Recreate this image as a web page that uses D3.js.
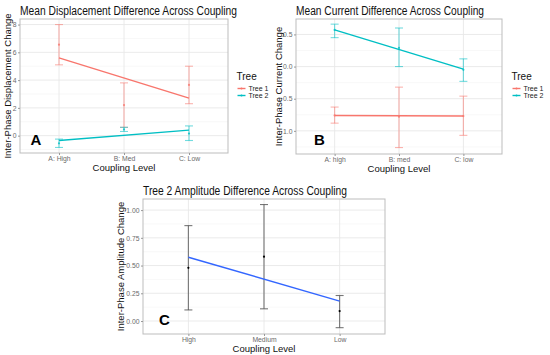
<!DOCTYPE html>
<html><head><meta charset="utf-8">
<script src="https://cdn.jsdelivr.net/npm/d3@7"></script>
<style>body{margin:0;background:#fff}svg{display:block}text{font-family:"Liberation Sans",Arial,sans-serif}</style>
</head><body>
<svg id="c" width="550" height="355"></svg>
<script>
// ---- Panel A: Mean Displacement ----
const catsA = ["A: High", "B: Med", "C: Low"];
const ticksA = [0, 2, 4, 6, 8];
const t1MeanA = [6.55, 2.2, 3.65];
const t1LowA = [5.1, 0.6, 2.3];
const t1HighA = [8.0, 3.8, 5.0];
const t1FitA = [5.6, 2.7];
const t2MeanA = [-0.55, 0.45, 0.15];
const t2LowA = [-0.85, 0.3, -0.35];
const t2HighA = [-0.25, 0.6, 0.7];
const t2FitA = [-0.35, 0.4];

// ---- Panel B: Mean Current ----
const catsB = ["A: high", "B: med", "C: low"];
const ticksB = [-1.0, -0.5, 0.0, 0.5];
const t1MeanB = [-0.76, -0.78, -0.77];
const t1LowB = [-0.88, -1.26, -1.07];
const t1HighB = [-0.63, -0.32, -0.46];
const t1FitB = [-0.76, -0.77];
const t2MeanB = [0.57, 0.29, -0.05];
const t2LowB = [0.45, 0.0, -0.23];
const t2HighB = [0.66, 0.6, 0.12];
const t2FitB = [0.57, -0.04];

// ---- Panel C: Tree 2 Amplitude ----
const catsC = ["High", "Medium", "Low"];
const ticksC = [0.00, 0.25, 0.50, 0.75, 1.00];
const meanC = [0.48, 0.58, 0.09];
const lowC = [0.10, 0.11, -0.06];
const highC = [0.86, 1.05, 0.23];
const fitC = [0.575, 0.18];

const legendNames = ["Tree 1", "Tree 2"];
const treeColors = ["#F8766D", "#00BFC4"];

const svg = d3.select("#c");

function panel(o) {
  const g = svg.append("g");
  const x = d3.scalePoint().domain(o.cats).range([o.x0, o.x1]).padding(0.6);
  const y = d3.scaleLinear().domain(o.ydom).range([o.y1, o.y0]);
  const minor = [];
  for (let i = 0; i < o.ticks.length - 1; i++) minor.push((o.ticks[i] + o.ticks[i + 1]) / 2);
  const lo = o.ticks[0] - (o.ticks[1] - o.ticks[0]) / 2;
  if (lo > o.ydom[0]) minor.push(lo);
  const hi = o.ticks[o.ticks.length - 1] + (o.ticks[1] - o.ticks[0]) / 2;
  if (hi < o.ydom[1]) minor.push(hi);
  g.selectAll(".mn").data(minor).join("line").attr("x1", o.x0).attr("x2", o.x1)
    .attr("y1", d => y(d)).attr("y2", d => y(d)).attr("stroke", "#f3f3f3").attr("stroke-width", 0.6);
  g.selectAll(".mj").data(o.ticks).join("line").attr("x1", o.x0).attr("x2", o.x1)
    .attr("y1", d => y(d)).attr("y2", d => y(d)).attr("stroke", "#e8e8e8").attr("stroke-width", 0.9);
  g.selectAll(".vx").data(o.cats).join("line").attr("x1", d => x(d)).attr("x2", d => x(d))
    .attr("y1", o.y0).attr("y2", o.y1).attr("stroke", "#e8e8e8").attr("stroke-width", 0.9);
  g.append("rect").attr("x", o.x0).attr("y", o.y0).attr("width", o.x1 - o.x0).attr("height", o.y1 - o.y0)
    .attr("fill", "none").attr("stroke", "#bdbdbd").attr("stroke-width", 1);
  const ya = d3.axisLeft(y).tickValues(o.ticks).tickSize(2).tickPadding(1.5).tickFormat(o.fmt);
  const ga = g.append("g").attr("transform", `translate(${o.x0},0)`).call(ya);
  ga.select(".domain").remove();
  ga.selectAll("line").attr("stroke", "#999");
  ga.selectAll("text").attr("fill", "#6a6a6a").style("font-size", "6.8px");
  const xa = d3.axisBottom(x).tickSize(2).tickPadding(1);
  const gx = g.append("g").attr("transform", `translate(0,${o.y1})`).call(xa);
  gx.select(".domain").remove();
  gx.selectAll("line").attr("stroke", "#999");
  gx.selectAll("text").attr("fill", "#6a6a6a").style("font-size", "6.8px");
  o.series.forEach(s => {
    const bars = o.cats.map((c, i) => ({ c, m: s.mean[i], lo: s.low[i], hi: s.high[i] }));
    const eg = g.append("g").attr("stroke", s.ebColor).attr("stroke-opacity", s.ebOpacity).attr("stroke-width", 1.1);
    eg.selectAll(".v").data(bars).join("line").attr("x1", d => x(d.c)).attr("x2", d => x(d.c))
      .attr("y1", d => y(d.lo)).attr("y2", d => y(d.hi));
    eg.selectAll(".t").data(bars).join("line").attr("x1", d => x(d.c) - 4).attr("x2", d => x(d.c) + 4)
      .attr("y1", d => y(d.hi)).attr("y2", d => y(d.hi));
    eg.selectAll(".b").data(bars).join("line").attr("x1", d => x(d.c) - 4).attr("x2", d => x(d.c) + 4)
      .attr("y1", d => y(d.lo)).attr("y2", d => y(d.lo));
    g.selectAll(null).data(bars).join("circle").attr("cx", d => x(d.c)).attr("cy", d => y(d.m))
      .attr("r", 1.1).attr("fill", s.ptColor).attr("fill-opacity", s.ptOpacity);
    const fit = [{ c: o.cats[0], v: s.fit[0] }, { c: o.cats[o.cats.length - 1], v: s.fit[1] }];
    g.append("path").datum(fit).attr("d", d3.line().x(d => x(d.c)).y(d => y(d.v)))
      .attr("stroke", s.lineColor).attr("stroke-width", 1.4).attr("fill", "none");
  });
  g.append("text").attr("x", o.x0).attr("y", o.y0 - 4).text(o.title)
    .style("font-size", "12px").attr("fill", "#111").attr("textLength", o.titleLen).attr("lengthAdjust", "spacingAndGlyphs");
  g.append("text").attr("x", (o.x0 + o.x1) / 2).attr("y", o.y1 + 18).attr("text-anchor", "middle")
    .text("Coupling Level").style("font-size", "9.5px").attr("fill", "#111");
  g.append("text").attr("transform", `translate(${o.ylabX},${(o.y0 + o.y1) / 2}) rotate(-90)`)
    .attr("text-anchor", "middle").attr("dy", "0.35em").text(o.ylab).style("font-size", "9.5px").attr("fill", "#111");
  g.append("text").attr("x", o.tagX).attr("y", o.tagY).text(o.tag)
    .style("font-size", "15px").style("font-weight", "bold").attr("fill", "#000");
  if (o.legend) {
    const lg = g.append("g").attr("transform", `translate(${o.legend[0]},${o.legend[1]})`);
    lg.append("text").attr("x", 0).attr("y", 0).attr("dy", "0.35em").text("Tree").style("font-size", "10px").attr("fill", "#111");
    legendNames.forEach((n, i) => {
      const yy = 12.5 + i * 7;
      lg.append("line").attr("x1", 1).attr("x2", 9).attr("y1", yy).attr("y2", yy)
        .attr("stroke", treeColors[i]).attr("stroke-width", 1.4);
      lg.append("circle").attr("cx", 5).attr("cy", yy).attr("r", 1).attr("fill", treeColors[i]);
      lg.append("text").attr("x", 12).attr("y", yy).attr("dy", "0.35em").text(n).style("font-size", "7px").attr("fill", "#222");
    });
  }
}

const tree = (i, mean, low, high, fit) => ({ mean, low, high, fit, ebColor: treeColors[i], ebOpacity: 0.55,
  ptColor: treeColors[i], ptOpacity: 0.8, lineColor: treeColors[i] });

panel({ x0: 20, x1: 228, y0: 19, y1: 153, cats: catsA, ticks: ticksA, ydom: [-1.25, 8.4],
  fmt: d3.format("d"), title: "Mean Displacement Difference Across Coupling", titleLen: 217,
  ylab: "Inter-Phase Displacement Change", ylabX: 8, tag: "A", tagX: 30.5, tagY: 144.5,
  legend: [236.5, 76],
  series: [tree(0, t1MeanA, t1LowA, t1HighA, t1FitA), tree(1, t2MeanA, t2LowA, t2HighA, t2FitA)] });

panel({ x0: 296, x1: 502, y0: 19, y1: 154, cats: catsB, ticks: ticksB, ydom: [-1.36, 0.74],
  fmt: d3.format(".1f"), title: "Mean Current Difference Across Coupling", titleLen: 188,
  ylab: "Inter-Phase Current Change", ylabX: 279, tag: "B", tagX: 314, tagY: 144.5,
  legend: [511.5, 76],
  series: [tree(0, t1MeanB, t1LowB, t1HighB, t1FitB), tree(1, t2MeanB, t2LowB, t2HighB, t2FitB)] });

panel({ x0: 143, x1: 385, y0: 199, y1: 334, cats: catsC, ticks: ticksC, ydom: [-0.117, 1.10],
  fmt: d3.format(".2f"), title: "Tree 2 Amplitude Difference Across Coupling", titleLen: 204,
  ylab: "Inter-Phase Amplitude Change", ylabX: 121, tag: "C", tagX: 159, tagY: 324.5,
  legend: null,
  series: [{ mean: meanC, low: lowC, high: highC, fit: fitC, ebColor: "#555", ebOpacity: 0.8,
    ptColor: "#000", ptOpacity: 1, lineColor: "#3366FF" }] });
</script>
</body></html>
